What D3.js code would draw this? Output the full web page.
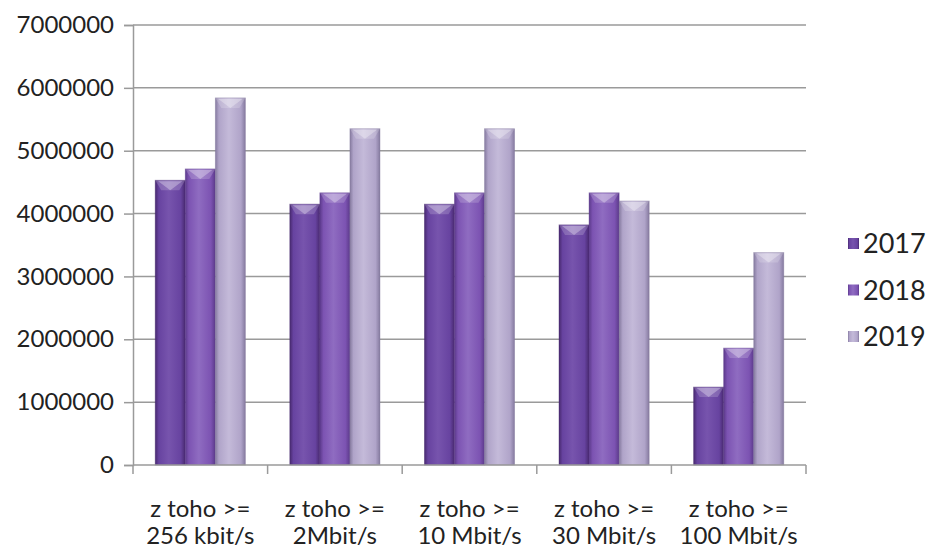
<!DOCTYPE html>
<html>
<head>
<meta charset="utf-8">
<script src="https://cdn.jsdelivr.net/npm/d3@7"></script>
<style>
  html, body { margin: 0; padding: 0; background: #fff; }
  svg { display: block; }
  text { font-family: Lato, "Open Sans", sans-serif; fill: #222; }
</style>
</head>
<body>
<svg id="chart" width="929" height="551"></svg>
<script>
const categories = [
  ["z toho >=", "256 kbit/s"],
  ["z toho >=", "2Mbit/s"],
  ["z toho >=", "10 Mbit/s"],
  ["z toho >=", "30 Mbit/s"],
  ["z toho >=", "100 Mbit/s"]
];
const seriesNames = ["2017", "2018", "2019"];
const values2017 = [4530000, 4150000, 4150000, 3820000, 1240000];
const values2018 = [4710000, 4330000, 4330000, 4330000, 1860000];
const values2019 = [5840000, 5350000, 5350000, 4200000, 3380000];
const yTicks = [0, 1000000, 2000000, 3000000, 4000000, 5000000, 6000000, 7000000];

const seriesValues = [values2017, values2018, values2019];
const colors = [
  { edge: "#48296f", mid: "#6743a0", light: "#7754ad" },
  { edge: "#5c3a8b", mid: "#7c53b2", light: "#8f6cc1" },
  { edge: "#857a9f", mid: "#b0a4c9", light: "#c4bad9" }
];

const svg = d3.select("#chart");
const pLeft = 133, pRight = 806, pTop = 25, pBottom = 465;

const x0 = d3.scaleBand().domain(d3.range(categories.length)).range([pLeft, pRight]).paddingInner(0).paddingOuter(0);
const x1 = d3.scaleBand().domain(seriesNames)
  .range([x0.bandwidth() * 0.165, x0.bandwidth() * 0.835]);
const y = d3.scaleLinear().domain([0, 7000000]).range([pBottom, pTop]);

// gradients
const defs = svg.append("defs");
colors.forEach((c, i) => {
  const g = defs.append("linearGradient").attr("id", "g" + i)
    .attr("x1", "0").attr("x2", "1").attr("y1", "0").attr("y2", "0");
  g.append("stop").attr("offset", "0").attr("stop-color", c.edge);
  g.append("stop").attr("offset", "0.12").attr("stop-color", c.mid);
  g.append("stop").attr("offset", "0.45").attr("stop-color", c.light);
  g.append("stop").attr("offset", "0.85").attr("stop-color", c.mid);
  g.append("stop").attr("offset", "1").attr("stop-color", c.edge);
});

// gridlines
svg.append("g").selectAll("line").data(yTicks.filter(d => d > 0)).join("line")
  .attr("x1", pLeft).attr("x2", pRight)
  .attr("y1", d => y(d)).attr("y2", d => y(d))
  .attr("stroke", "#9a9a9a").attr("stroke-width", 1.5);

// y axis
const yAxis = d3.axisLeft(y).tickValues(yTicks).tickSize(9).tickPadding(10).tickFormat(d3.format("d"));
const ya = svg.append("g").attr("transform", `translate(${pLeft},0)`).call(yAxis);
ya.select(".domain").attr("stroke", "#9a9a9a").attr("stroke-width", 1.5);
ya.selectAll(".tick line").attr("stroke", "#9a9a9a").attr("stroke-width", 1.5);
ya.selectAll(".tick text").attr("font-size", 24).attr("fill", "#222")
  .style("font-family", "Lato, 'Open Sans', sans-serif");

// bars
const groups = svg.append("g").selectAll("g").data(categories).join("g")
  .attr("transform", (d, i) => `translate(${x0(i)},0)`);

groups.each(function(cat, ci) {
  const g = d3.select(this);
  seriesNames.forEach((s, si) => {
    const v = seriesValues[si][ci];
    const bx = x1(s), bw = x1.bandwidth(), by = y(v), bh = y(0) - y(v);
    g.append("rect").attr("x", bx).attr("y", by).attr("width", bw).attr("height", bh)
      .attr("fill", `url(#g${si})`)
      .attr("stroke", colors[si].edge).attr("stroke-opacity", 0.5).attr("stroke-width", 0.8);
    g.append("path")
      .attr("d", `M${bx},${by} L${bx + bw},${by} L${bx + bw - 6},${by + 10} L${bx + 6},${by + 10} Z`)
      .attr("fill", "#ffffff").attr("opacity", 0.18);
    g.append("path")
      .attr("d", `M${bx + 3},${by + 1} L${bx + bw - 3},${by + 1} L${bx + bw / 2},${by + 10} Z`)
      .attr("fill", "#ffffff").attr("opacity", 0.3);
  });
});

// x axis
const xa = svg.append("g");
xa.append("line").attr("x1", pLeft).attr("x2", pRight).attr("y1", pBottom).attr("y2", pBottom)
  .attr("stroke", "#9a9a9a").attr("stroke-width", 1.5);
const bounds = d3.range(categories.length + 1).map(i => pLeft + i * x0.bandwidth());
xa.selectAll("line.tk").data(bounds).join("line").attr("class", "tk")
  .attr("x1", d => d).attr("x2", d => d).attr("y1", pBottom).attr("y2", pBottom + 9)
  .attr("stroke", "#9a9a9a").attr("stroke-width", 1.5);

const labels = svg.append("g").selectAll("text").data(categories).join("text")
  .attr("text-anchor", "middle")
  .attr("font-size", 24);
labels.each(function(d, i) {
  const t = d3.select(this);
  const cx = x0(i) + x0.bandwidth() / 2;
  t.append("tspan").attr("x", cx).attr("y", 517).text(d[0]);
  t.append("tspan").attr("x", cx).attr("y", 544).text(d[1]);
});

// legend
const legend = svg.append("g").selectAll("g").data(seriesNames).join("g")
  .attr("transform", (d, i) => `translate(848,${244 + i * 46.5})`);
legend.append("rect").attr("x", 0).attr("y", -6).attr("width", 11).attr("height", 11)
  .attr("fill", (d, i) => `url(#g${i})`);
legend.append("text").attr("x", 15).attr("y", 0).attr("dy", "0.35em")
  .attr("font-size", 27).text(d => d);
</script>
</body>
</html>
